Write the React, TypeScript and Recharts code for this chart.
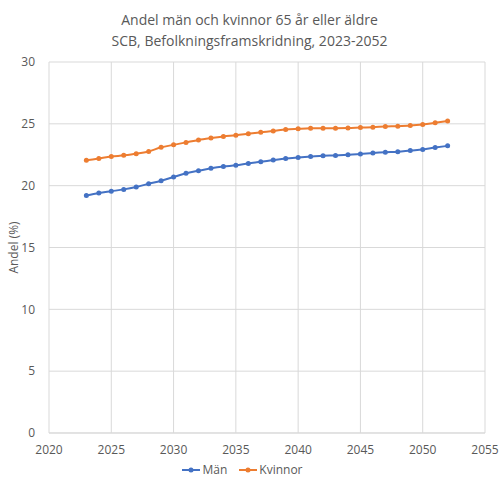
import { LineChart, Line, XAxis, YAxis, CartesianGrid, Legend } from "recharts";

const years = [
  2023, 2024, 2025, 2026, 2027, 2028, 2029, 2030, 2031, 2032, 2033, 2034, 2035, 2036, 2037,
  2038, 2039, 2040, 2041, 2042, 2043, 2044, 2045, 2046, 2047, 2048, 2049, 2050, 2051, 2052,
];
const man = [
  19.2, 19.4, 19.55, 19.7, 19.9, 20.15, 20.4, 20.7, 21.0, 21.2, 21.4, 21.55, 21.65, 21.8, 21.93,
  22.07, 22.2, 22.28, 22.35, 22.42, 22.44, 22.5, 22.56, 22.64, 22.7, 22.74, 22.84, 22.93, 23.08, 23.22,
];
const kvinnor = [
  22.05, 22.2, 22.35, 22.45, 22.58, 22.77, 23.1, 23.3, 23.5, 23.7, 23.85, 23.98, 24.08, 24.2, 24.32,
  24.42, 24.55, 24.6, 24.64, 24.65, 24.65, 24.66, 24.7, 24.73, 24.78, 24.81, 24.86, 24.95, 25.08, 25.22,
];
const xTicks = [2020, 2025, 2030, 2035, 2040, 2045, 2050, 2055];
const yTicks = [0, 5, 10, 15, 20, 25, 30];

const data = years.map((y, i) => ({ year: y, man: man[i], kvinnor: kvinnor[i] }));

const FONT = "'Open Sans', 'Liberation Sans', sans-serif";
const TEXT = "#595959";
const BLUE = "#4472C4";
const ORANGE = "#ED7D31";

const LegendContent = () => {
  const items = [
    { name: "Män", color: BLUE },
    { name: "Kvinnor", color: ORANGE },
  ];
  return (
    <div style={{ display: "flex", justifyContent: "center", gap: 12, fontFamily: FONT, fontSize: 12, color: TEXT }}>
      {items.map((it) => (
        <div key={it.name} style={{ display: "flex", alignItems: "center", gap: 2 }}>
          <svg width={18} height={8}>
            <line x1={0} y1={4} x2={18} y2={4} stroke={it.color} strokeWidth={2} />
            <circle cx={9} cy={4} r={2.5} fill={it.color} />
          </svg>
          <span>{it.name}</span>
        </div>
      ))}
    </div>
  );
};

export default function App() {
  return (
    <div style={{ position: "absolute", left: 0, top: 0, width: 499, height: 479, background: "#fff" }}>
      <div
        style={{
          position: "absolute",
          top: 9,
          left: 0,
          width: 499,
          textAlign: "center",
          fontFamily: FONT,
          fontSize: 14,
          lineHeight: "21px",
          color: TEXT,
        }}
      >
        Andel män och kvinnor 65 år eller äldre
        <br />
        SCB, Befolkningsframskridning, 2023-2052
      </div>
      <LineChart width={499} height={479} data={data} margin={{ top: 62, right: 14, left: 0, bottom: 0 }}>
        <CartesianGrid stroke="#d9d9d9" />
        <XAxis
          dataKey="year"
          type="number"
          domain={[2020, 2055]}
          ticks={xTicks}
          tickLine={false}
          axisLine={{ stroke: "#d9d9d9" }}
          tick={{ fill: TEXT, fontSize: 12, fontFamily: FONT }}
          tickMargin={6}
          height={28}
        />
        <YAxis
          domain={[0, 30]}
          ticks={yTicks}
          tickLine={false}
          axisLine={false}
          width={49}
          tick={{ fill: TEXT, fontSize: 12, fontFamily: FONT }}
          tickMargin={8}
          label={{
            value: "Andel (%)",
            angle: -90,
            position: "insideLeft",
            offset: 14,
            style: { fill: TEXT, fontSize: 12, fontFamily: FONT, textAnchor: "middle" },
          }}
        />
        <Legend content={<LegendContent />} verticalAlign="bottom" height={18} />
        <Line
          type="monotone"
          dataKey="man"
          name="Män"
          stroke={BLUE}
          strokeWidth={2}
          dot={{ r: 2.5, fill: BLUE, stroke: BLUE, strokeWidth: 0 }}
          isAnimationActive={false}
        />
        <Line
          type="monotone"
          dataKey="kvinnor"
          name="Kvinnor"
          stroke={ORANGE}
          strokeWidth={2}
          dot={{ r: 2.5, fill: ORANGE, stroke: ORANGE, strokeWidth: 0 }}
          isAnimationActive={false}
        />
      </LineChart>
    </div>
  );
}
